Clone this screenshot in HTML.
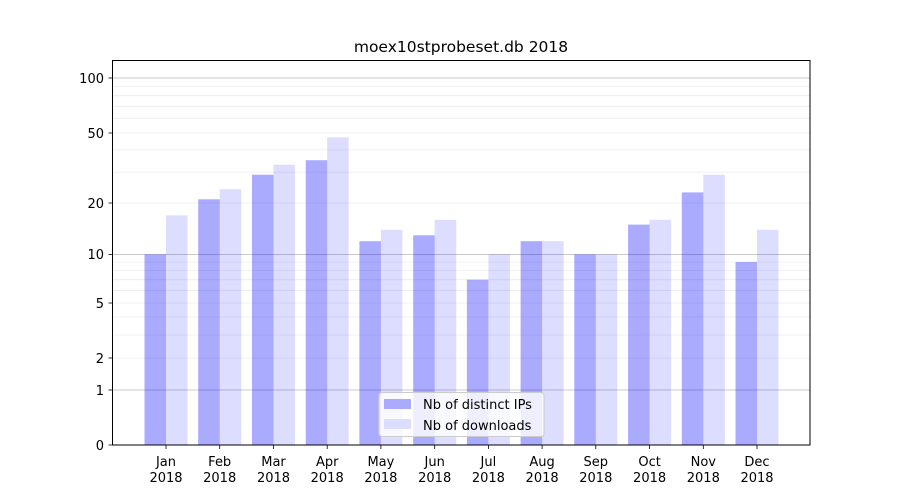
<!DOCTYPE html>
<html><head><style>body{margin:0;background:#fff}svg{display:block}text{font-family:"DejaVu Sans","Liberation Sans",sans-serif;fill:#000}</style></head><body>
<svg width="900" height="500" viewBox="0 0 900 500" xmlns="http://www.w3.org/2000/svg">
<rect width="900" height="500" fill="#fff"/>
<g stroke="#ebebeb" stroke-width="0.8">
<line x1="112" x2="810" y1="358" y2="358"/><line x1="112" x2="810" y1="335" y2="335"/><line x1="112" x2="810" y1="317" y2="317"/><line x1="112" x2="810" y1="303" y2="303"/><line x1="112" x2="810" y1="290.3" y2="290.3"/><line x1="112" x2="810" y1="279.7" y2="279.7"/><line x1="112" x2="810" y1="270.4" y2="270.4"/><line x1="112" x2="810" y1="262" y2="262"/><line x1="112" x2="810" y1="203" y2="203"/><line x1="112" x2="810" y1="172.1" y2="172.1"/><line x1="112" x2="810" y1="149.9" y2="149.9"/><line x1="112" x2="810" y1="133" y2="133"/><line x1="112" x2="810" y1="118.3" y2="118.3"/><line x1="112" x2="810" y1="106.2" y2="106.2"/><line x1="112" x2="810" y1="95.7" y2="95.7"/><line x1="112" x2="810" y1="86.5" y2="86.5"/>
</g>
<g stroke="#b8b8b8" stroke-width="0.8"><line x1="112" x2="810" y1="390" y2="390"/><line x1="112" x2="810" y1="254.4" y2="254.4"/><line x1="112" x2="810" y1="78" y2="78"/></g>
<g fill="#0000ff" fill-opacity="0.333">
<rect x="144.5" width="21.5" y="254.4" height="190.6"/>
<rect x="198.2" width="21.5" y="199.3" height="245.7"/>
<rect x="252" width="21.5" y="174.7" height="270.3"/>
<rect x="305.7" width="21.5" y="160.2" height="284.8"/>
<rect x="359.4" width="21.5" y="241.2" height="203.8"/>
<rect x="413.2" width="21.5" y="235.3" height="209.7"/>
<rect x="466.9" width="21.5" y="279.7" height="165.3"/>
<rect x="520.6" width="21.5" y="241.2" height="203.8"/>
<rect x="574.3" width="21.5" y="254.4" height="190.6"/>
<rect x="628.1" width="21.5" y="224.6" height="220.4"/>
<rect x="681.8" width="21.5" y="192.4" height="252.6"/>
<rect x="735.5" width="21.5" y="262" height="183"/>
</g>
<g fill="#0000ff" fill-opacity="0.133">
<rect x="166" width="21.5" y="215.3" height="229.7"/>
<rect x="219.7" width="21.5" y="189.2" height="255.8"/>
<rect x="273.5" width="21.5" y="164.7" height="280.3"/>
<rect x="327.2" width="21.5" y="137.3" height="307.7"/>
<rect x="380.9" width="21.5" y="229.8" height="215.2"/>
<rect x="434.7" width="21.5" y="219.8" height="225.2"/>
<rect x="488.4" width="21.5" y="254.4" height="190.6"/>
<rect x="542.1" width="21.5" y="241.2" height="203.8"/>
<rect x="595.8" width="21.5" y="254.4" height="190.6"/>
<rect x="649.6" width="21.5" y="219.8" height="225.2"/>
<rect x="703.3" width="21.5" y="174.7" height="270.3"/>
<rect x="757" width="21.5" y="229.8" height="215.2"/>
</g>
<rect x="112.5" y="60.5" width="697.5" height="384.5" fill="none" stroke="#000" stroke-width="1"/>
<g stroke="#000" stroke-width="0.8">
<line x1="108.5" x2="112.5" y1="445" y2="445"/><line x1="108.5" x2="112.5" y1="390" y2="390"/><line x1="108.5" x2="112.5" y1="358" y2="358"/><line x1="108.5" x2="112.5" y1="303" y2="303"/><line x1="108.5" x2="112.5" y1="254.4" y2="254.4"/><line x1="108.5" x2="112.5" y1="203" y2="203"/><line x1="108.5" x2="112.5" y1="133" y2="133"/><line x1="108.5" x2="112.5" y1="78" y2="78"/>
<line x1="166" x2="166" y1="445" y2="449"/><line x1="219.7" x2="219.7" y1="445" y2="449"/><line x1="273.5" x2="273.5" y1="445" y2="449"/><line x1="327.2" x2="327.2" y1="445" y2="449"/><line x1="380.9" x2="380.9" y1="445" y2="449"/><line x1="434.7" x2="434.7" y1="445" y2="449"/><line x1="488.4" x2="488.4" y1="445" y2="449"/><line x1="542.1" x2="542.1" y1="445" y2="449"/><line x1="595.8" x2="595.8" y1="445" y2="449"/><line x1="649.6" x2="649.6" y1="445" y2="449"/><line x1="703.3" x2="703.3" y1="445" y2="449"/><line x1="757" x2="757" y1="445" y2="449"/>
</g>
<g font-size="13" text-anchor="end">
<text x="104" y="450">0</text><text x="104" y="395">1</text><text x="104" y="363">2</text><text x="104" y="308">5</text><text x="104" y="259">10</text><text x="104" y="208">20</text><text x="104" y="138">50</text><text x="104" y="83">100</text>
</g>
<g font-size="13" text-anchor="middle">
<text x="166" y="466">Jan</text><text x="166" y="482">2018</text>
<text x="219.7" y="466">Feb</text><text x="219.7" y="482">2018</text>
<text x="273.5" y="466">Mar</text><text x="273.5" y="482">2018</text>
<text x="327.2" y="466">Apr</text><text x="327.2" y="482">2018</text>
<text x="380.9" y="466">May</text><text x="380.9" y="482">2018</text>
<text x="434.7" y="466">Jun</text><text x="434.7" y="482">2018</text>
<text x="488.4" y="466">Jul</text><text x="488.4" y="482">2018</text>
<text x="542.1" y="466">Aug</text><text x="542.1" y="482">2018</text>
<text x="595.8" y="466">Sep</text><text x="595.8" y="482">2018</text>
<text x="649.6" y="466">Oct</text><text x="649.6" y="482">2018</text>
<text x="703.3" y="466">Nov</text><text x="703.3" y="482">2018</text>
<text x="757" y="466">Dec</text><text x="757" y="482">2018</text>
<text x="461" y="52" font-size="15.5">moex10stprobeset.db 2018</text>
</g>
<rect x="379" y="392.5" width="165" height="44" rx="3" fill="#fff" fill-opacity="0.8" stroke="#ccc" stroke-width="1"/>
<rect x="384" y="399" width="27" height="10" fill="#aaaaff"/>
<rect x="384" y="419" width="27" height="10" fill="#ddddff"/>
<text x="423" y="409" font-size="13">Nb of distinct IPs</text>
<text x="423" y="430" font-size="13">Nb of downloads</text>
</svg>
</body></html>
